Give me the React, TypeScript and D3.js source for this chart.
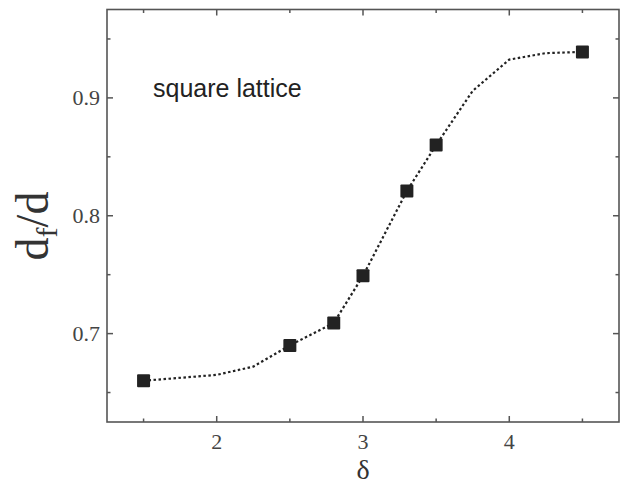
import React from "react";
import * as d3 from "d3";

const deltaValues = [1.5, 2.5, 2.8, 3.0, 3.3, 3.5, 4.5];
const ratioValues = [0.66, 0.69, 0.709, 0.749, 0.821, 0.86, 0.939];

const curveDelta = [1.5, 2.0, 2.25, 2.5, 2.8, 3.0, 3.3, 3.5, 3.75, 4.0, 4.25, 4.5];
const curveRatio = [0.66, 0.665, 0.672, 0.69, 0.709, 0.749, 0.821, 0.86, 0.906, 0.9325, 0.938, 0.939];

const xMajorTicks = [2, 3, 4];
const xMinorTicks = [1.5, 2.5, 3.5, 4.5];
const yMajorTicks = [0.7, 0.8, 0.9];
const yMinorTicks = [0.65, 0.75, 0.85, 0.95];

const W = 621;
const H = 486;
const L = 107, R = 619, T = 9.5, B = 422;

export default function App() {
  const x = d3.scaleLinear().domain([1.25, 4.75]).range([L, R]);
  const y = d3.scaleLinear().domain([0.625, 0.975]).range([B, T]);
  const line = d3
    .line<number>()
    .x((_, i) => x(curveDelta[i]))
    .y((d) => y(d))
    .curve(d3.curveLinear);
  const axisColor = "#555";
  const major = 6;
  const minor = 3.5;
  return (
    <svg
      width={W}
      height={H}
      style={{ position: "absolute", left: 0, top: 0, display: "block", background: "#fff" }}
    >
      <rect x={0} y={0} width={W} height={H} fill="#fff" />
      {/* ticks */}
      <g stroke={axisColor} strokeWidth={1.5}>
        {xMajorTicks.map((t) => (
          <g key={"xM" + t}>
            <line x1={x(t)} x2={x(t)} y1={B} y2={B - major} />
            <line x1={x(t)} x2={x(t)} y1={T} y2={T + major} />
          </g>
        ))}
        {xMinorTicks.map((t) => (
          <g key={"xm" + t}>
            <line x1={x(t)} x2={x(t)} y1={B} y2={B - minor} />
            <line x1={x(t)} x2={x(t)} y1={T} y2={T + minor} />
          </g>
        ))}
        {yMajorTicks.map((t) => (
          <g key={"yM" + t}>
            <line x1={L} x2={L + major} y1={y(t)} y2={y(t)} />
            <line x1={R} x2={R - major} y1={y(t)} y2={y(t)} />
          </g>
        ))}
        {yMinorTicks.map((t) => (
          <g key={"ym" + t}>
            <line x1={L} x2={L + minor} y1={y(t)} y2={y(t)} />
            <line x1={R} x2={R - minor} y1={y(t)} y2={y(t)} />
          </g>
        ))}
      </g>
      <rect x={L} y={T} width={R - L} height={B - T} fill="none" stroke={axisColor} strokeWidth={1.6} />
      {/* tick labels */}
      <g fontFamily="'Liberation Serif', 'Times New Roman', serif" fontSize={22} fill="#444">
        {xMajorTicks.map((t) => (
          <text key={"xl" + t} x={x(t)} y={449} textAnchor="middle">
            {t}
          </text>
        ))}
        {yMajorTicks.map((t) => (
          <text key={"yl" + t} x={L - 7} y={y(t) + 7.5} textAnchor="end">
            {t.toFixed(1)}
          </text>
        ))}
      </g>
      {/* axis titles */}
      <text
        x={x(3)}
        y={479}
        textAnchor="middle"
        fontFamily="'Liberation Serif', 'Times New Roman', serif"
        fontSize={28}
        fill="#333"
      >
        δ
      </text>
      <text
        transform={`translate(48, 226) rotate(-90)`}
        textAnchor="middle"
        fontFamily="'Liberation Serif', 'Times New Roman', serif"
        fontSize={46}
        fill="#333"
      >
        d<tspan fontSize={30} dy={9}>f</tspan>
        <tspan dy={-9}>/d</tspan>
      </text>
      {/* annotation */}
      <text
        x={153}
        y={97}
        fontFamily="'Liberation Sans', Arial, sans-serif"
        fontSize={25}
        fill="#222"
      >
        square lattice
      </text>
      {/* dotted curve */}
      <path
        d={line(curveRatio) || ""}
        fill="none"
        stroke="#222"
        strokeWidth={2.2}
        strokeDasharray="2.5,2.5"
      />
      {/* markers */}
      <g fill="#222">
        {deltaValues.map((d, i) => (
          <rect
            key={"p" + i}
            x={x(d) - 6.5}
            y={y(ratioValues[i]) - 6.5}
            width={13}
            height={13}
            rx={1}
          />
        ))}
      </g>
    </svg>
  );
}
